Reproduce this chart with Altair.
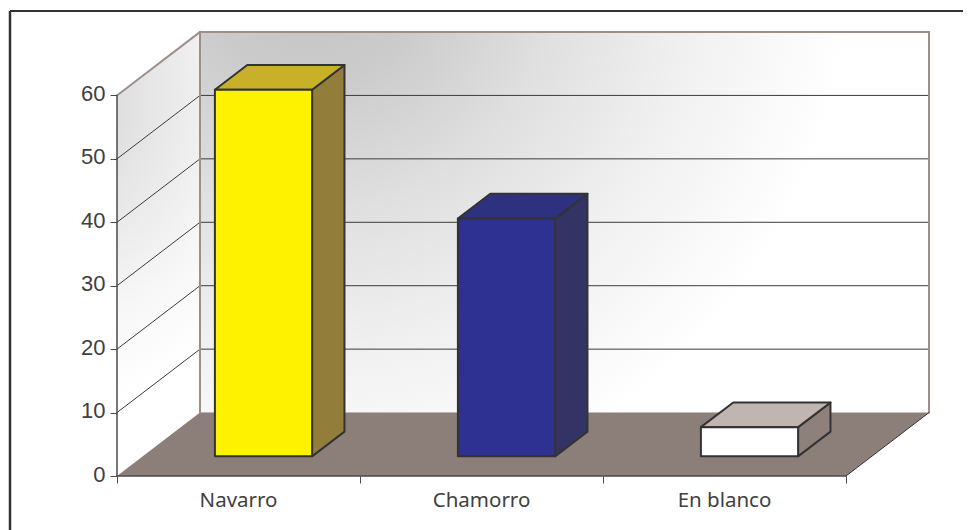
import altair as alt
import pandas as pd

categories = ["Navarro", "Chamorro", "En blanco"]
values = [57.8, 37.5, 4.6]
front_fill = ["#FFF200", "#2E3192", "#FFFFFF"]
top_fill = ["#C8B128", "#2E3180", "#C0B5B0"]
side_fill = ["#927E3A", "#333366", "#8E807B"]
y_ticks = [0, 10, 20, 30, 40, 50, 60]

Y_MAX = 60
DEPTH_X = 83 / 243   # chart depth, in category widths
DEPTH_Y = 10         # chart depth, in value units
BAR_START = 0.297
BAR_W = 0.4
Z0, Z1 = 0.31, 0.70
N = len(categories)
W, H = 812, 444

xs = alt.Scale(domain=[0, N + DEPTH_X], range=[0, W], nice=False, zero=False)
ys = alt.Scale(domain=[0, Y_MAX + DEPTH_Y], range=[H, 0], nice=False, zero=False)
x_axis = alt.Axis(values=list(range(N + 1)), labels=False, title=None, domain=False, grid=False,
                  tickSize=7, tickColor="#4A4A4A", tickWidth=1, zindex=1)
y_axis = alt.Axis(values=y_ticks, title=None, domain=False, grid=False, tickSize=7,
                  tickColor="#4A4A4A", tickWidth=1, zindex=1, labelFont="Liberation Sans",
                  labelFontSize=22, labelColor="#404040", labelPadding=5, labelOffset=-2)
X = alt.X("x:Q", scale=xs, axis=x_axis, sort=None)
Y = alt.Y("y:Q", scale=ys, axis=y_axis, sort=None)


def px(cat, z):
    return cat + z * DEPTH_X


def py(val, z):
    return val + z * DEPTH_Y


def vband(x0, x1, y0a, y1a, y0b, y1b, **mark):
    """Parallelogram with vertical left and right edges."""
    d = pd.DataFrame({"x": [x0, x1], "y": [y0a, y0b], "y2": [y1a, y1b]})
    return alt.Chart(d).mark_area(**mark).encode(X, Y, y2="y2:Q")


def hband(y0, y1, x0a, x1a, x0b, x1b, **mark):
    """Parallelogram with horizontal top and bottom edges."""
    d = pd.DataFrame({"y": [y0, y1], "x": [x0a, x0b], "x2": [x1a, x1b]})
    return alt.Chart(d).mark_area(orient="horizontal", **mark).encode(X, Y, x2="x2:Q")


def seg(x0, y0, x1, y1, color, width):
    d = pd.DataFrame({"x": [x0, x1], "y": [y0, y1]})
    return alt.Chart(d).mark_line(color=color, strokeWidth=width, strokeCap="square").encode(X, Y)


BORDER = "#9C8F8A"
GRID = "#3C3C3C"
INK = "#333333"

back_grad = alt.RadialGradient(
    gradient="radial", x1=0.15, y1=0.15, r1=0.02, x2=0.15, y2=0.15, r2=0.74,
    stops=[alt.GradientStop(offset=0, color="#C2C2C2"),
           alt.GradientStop(offset=0.2, color="#CCCCCC"),
           alt.GradientStop(offset=0.45, color="#E0E0E0"),
           alt.GradientStop(offset=0.7, color="#F0F0F0"),
           alt.GradientStop(offset=1, color="#FFFFFF")])
left_grad = alt.RadialGradient(
    gradient="radial", x1=0.15, y1=0.15, r1=0.02, x2=0.15, y2=0.15, r2=0.72,
    stops=[alt.GradientStop(offset=0, color="#C8C8C8"),
           alt.GradientStop(offset=0.45, color="#E6E6E6"),
           alt.GradientStop(offset=0.75, color="#F7F7F7"),
           alt.GradientStop(offset=1, color="#FFFFFF")])

layers = []
# Walls and floor
back_x0, back_x1 = px(0, 1), px(N, 1)
layers.append(hband(py(0, 1), py(Y_MAX, 1), back_x0, back_x1, back_x0, back_x1, fill=back_grad))
layers.append(vband(0, back_x0, 0, Y_MAX, py(0, 1), py(Y_MAX, 1), fill=left_grad))
layers.append(hband(0, DEPTH_Y, 0, N, back_x0, back_x1, fill="#8C7F7A"))

# Grid lines
for v in y_ticks[1:-1]:
    layers.append(seg(back_x0, py(v, 1), back_x1, py(v, 1), GRID, 1))
    layers.append(seg(0, v, back_x0, py(v, 1), GRID, 1))

# Wall borders
layers.append(seg(0, Y_MAX, back_x0, py(Y_MAX, 1), BORDER, 2))
layers.append(seg(back_x0, py(Y_MAX, 1), back_x1, py(Y_MAX, 1), BORDER, 2))
layers.append(seg(back_x1, py(Y_MAX, 1), back_x1, py(0, 1), BORDER, 2))
layers.append(seg(back_x0, py(Y_MAX, 1), back_x0, py(0, 1), BORDER, 2))
layers.append(seg(back_x1, py(0, 1), px(N, 0), 0, INK, 1))

# Bars
for i, v in enumerate(values):
    a = i + BAR_START
    b = a + BAR_W
    stroke = dict(stroke=INK, strokeWidth=2, strokeJoin="round")
    layers.append(vband(px(b, Z0), px(b, Z1), py(0, Z0), py(v, Z0), py(0, Z1), py(v, Z1),
                        fill=side_fill[i], **stroke))
    layers.append(hband(py(v, Z0), py(v, Z1), px(a, Z0), px(b, Z0), px(a, Z1), px(b, Z1),
                        fill=top_fill[i], **stroke))
    layers.append(hband(py(0, Z0), py(v, Z0), px(a, Z0), px(b, Z0), px(a, Z0), px(b, Z0),
                        fill=front_fill[i], **stroke))

# Axis lines
layers.append(seg(0, 0, 0, Y_MAX, "#4A4A4A", 1.5))
layers.append(seg(0, 0, N, 0, "#4A4A4A", 1.5))

# Category labels
cat_df = pd.DataFrame({"x": [i + 0.5 for i in range(N)], "label": categories})
layers.append(alt.Chart(cat_df).mark_text(
    font="Noto Sans", fontSize=20.5, color="#404040", baseline="middle", align="center"
).encode(X, y=alt.value(H + 25), text="label:N"))

# Outer frame
axis_df = pd.DataFrame({"x": [0], "y": [0]})
layers.append(alt.Chart(axis_df).mark_rule(color="#333333", strokeWidth=2).encode(
    x=alt.value(-107), x2=alt.value(862), y=alt.value(-21)))
layers.append(alt.Chart(axis_df).mark_rule(color="#333333", strokeWidth=2.5).encode(
    x=alt.value(-107), y=alt.value(-21), y2=alt.value(498)))

chart = alt.layer(*layers).properties(
    width=W, height=H,
    padding={"left": 109, "top": 24, "right": 34, "bottom": 54},
    autosize=alt.AutoSizeParams(type="none"),
    background="#FFFFFF",
).configure_view(stroke=None)

chart.save("out.html", embed_options={"renderer": "svg", "actions": False})
